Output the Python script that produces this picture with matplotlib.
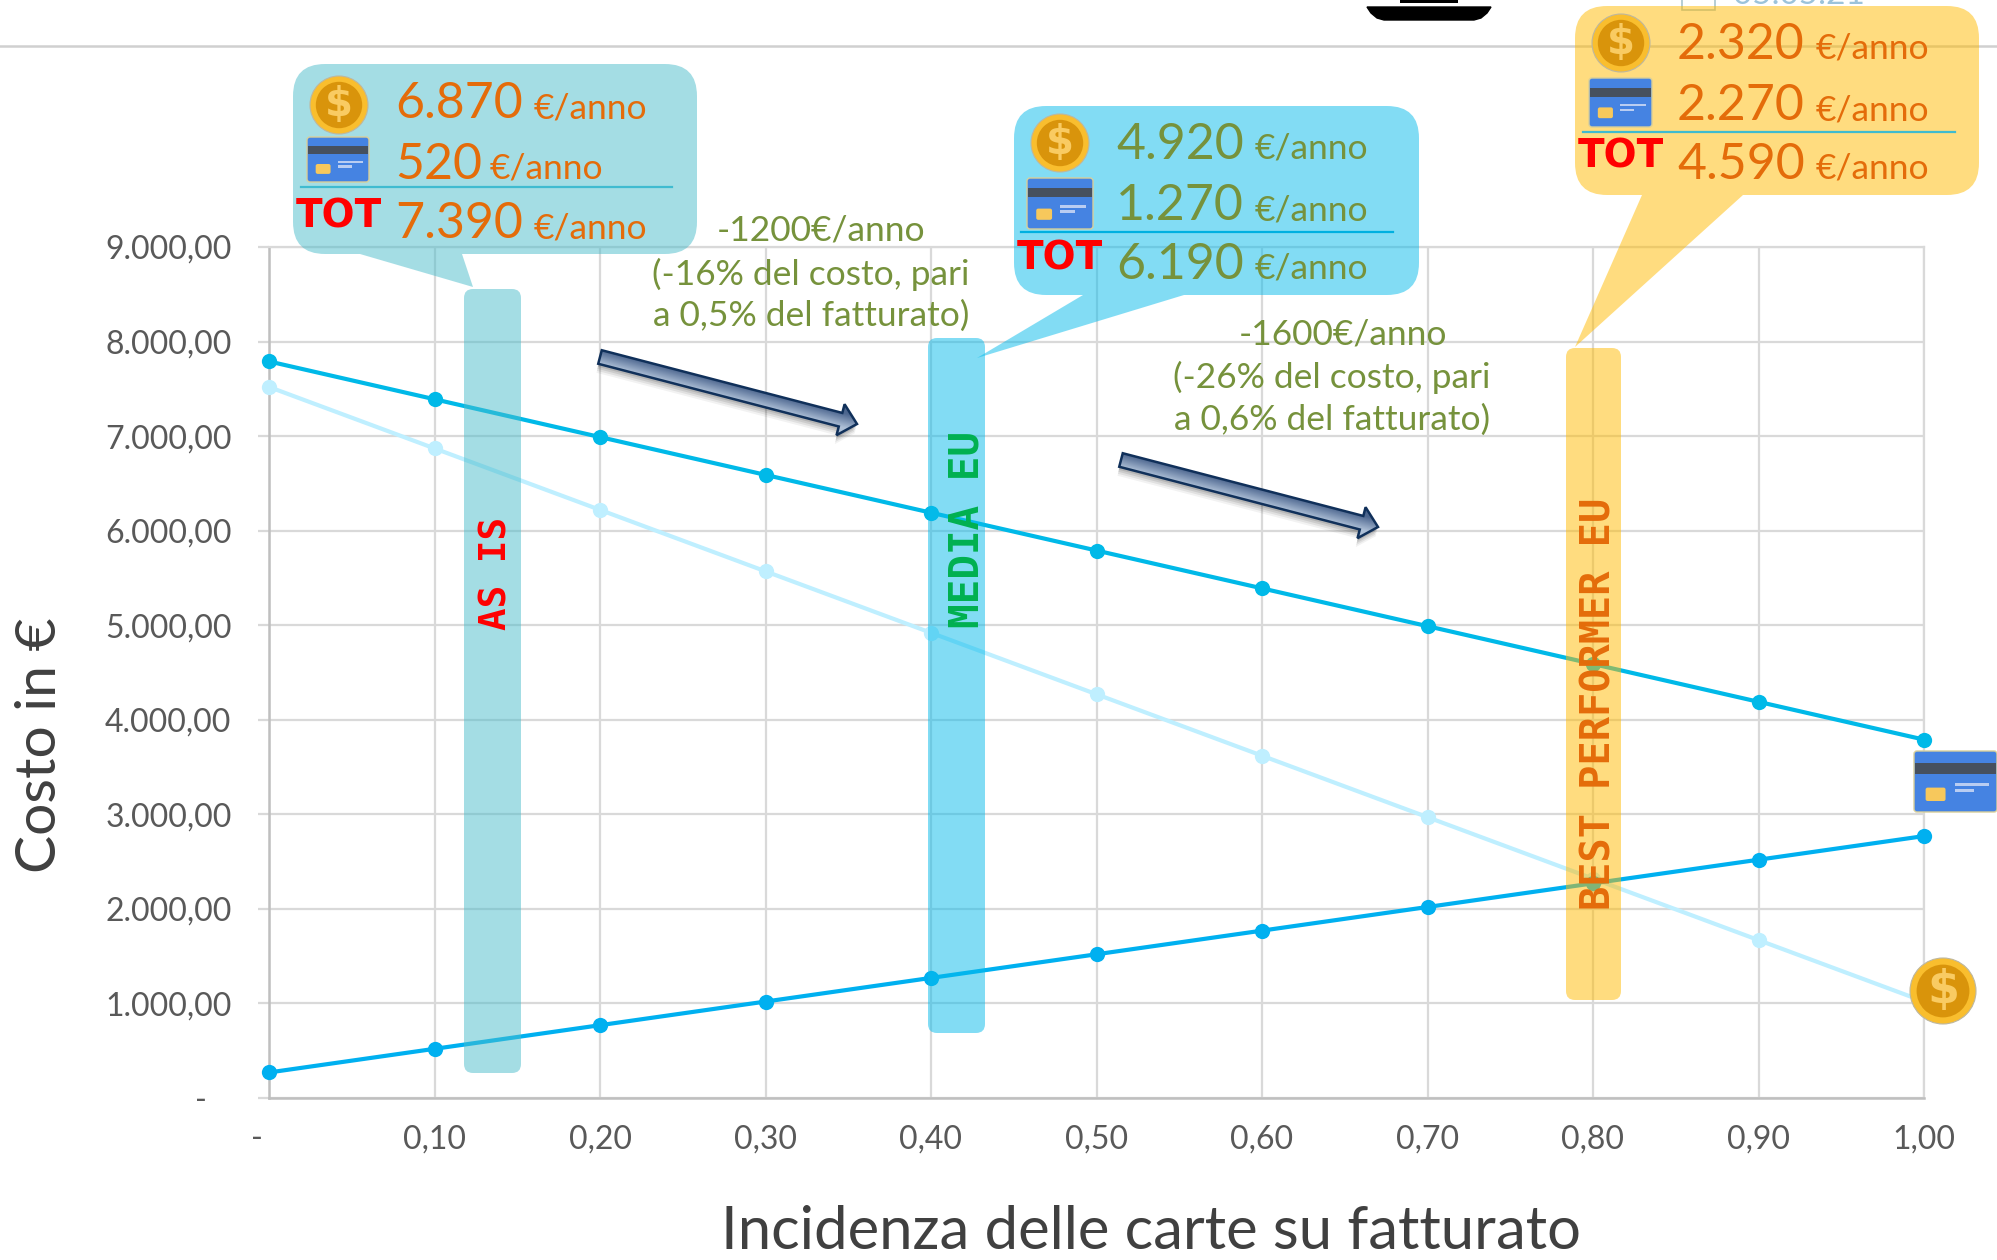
"""
Costo in funzione dell'incidenza delle carte su fatturato
"""

import numpy as np
import matplotlib
matplotlib.use("Agg")
import matplotlib.pyplot as plt
from matplotlib.patches import Circle, FancyBboxPatch, PathPatch, Polygon, Rectangle
from matplotlib.path import Path

W, H = 1997, 1260

# chart data
incidenza = [0.0, 0.1, 0.2, 0.3, 0.4, 0.5, 0.6, 0.7, 0.8, 0.9, 1.0]
costo_totale = [7790, 7390, 6990, 6590, 6190, 5790, 5390, 4990, 4590, 4190, 3790]
costo_contanti = [7520, 6870, 6220, 5570, 4920, 4270, 3620, 2970, 2320, 1670, 1020]
costo_carte = [270, 520, 770, 1020, 1270, 1520, 1770, 2020, 2270, 2520, 2770]
x_ticks = [0.0, 0.1, 0.2, 0.3, 0.4, 0.5, 0.6, 0.7, 0.8, 0.9, 1.0]
x_labels = ["-   ", "0,10", "0,20", "0,30", "0,40", "0,50", "0,60", "0,70", "0,80", "0,90", "1,00"]
y_ticks = [0, 1000, 2000, 3000, 4000, 5000, 6000, 7000, 8000, 9000]
y_labels = ["-   ", "1.000,00", "2.000,00", "3.000,00", "4.000,00", "5.000,00",
            "6.000,00", "7.000,00", "8.000,00", "9.000,00"]

# callout texts
as_is_values = ["6.870", "520", "7.390"]
media_values = ["4.920", "1.270", "6.190"]
best_values = ["2.320", "2.270", "4.590"]
nota_1 = ["-1200€/anno", "(-16% del costo, pari", "a 0,5% del fatturato)"]
nota_2 = ["-1600€/anno", "(-26% del costo, pari", "a 0,6% del fatturato)"]

ORANGE = "#E46C0A"
OLIVE = "#76923C"
GREY = "#595959"
FONT = "Lato"
COMIC = "DejaVu Sans Mono"

plt.rcParams["font.family"] = [FONT, "DejaVu Sans"]
fig = plt.figure(figsize=(W / 100, H / 100), dpi=100, facecolor="white")

# chart axes, placed on the pixels of the reference
L, R, T, B = 269, 1924, 247, 1098
ax = fig.add_axes([L / W, 1 - B / H, (R - L) / W, (B - T) / H])
ax.set_xlim(0, 1)
ax.set_ylim(0, 9000)
ax.set_xticks(x_ticks)
ax.set_xticklabels(x_labels)
ax.set_yticks(y_ticks)
ax.set_yticklabels(y_labels)
ax.grid(True, color="#D9D9D9", lw=1.6)
ax.set_axisbelow(True)
for s in ["top", "right"]:
    ax.spines[s].set_color("#D9D9D9")
    ax.spines[s].set_linewidth(1.6)
for s in ["left", "bottom"]:
    ax.spines[s].set_color("#BFBFBF")
    ax.spines[s].set_linewidth(1.8)
ax.tick_params(axis="y", length=8, width=1.6, color="#D9D9D9", pad=19, labelsize=23, labelcolor=GREY)
ax.tick_params(axis="x", length=0, pad=19, labelsize=23, labelcolor=GREY)

line_style = dict(marker="o", ms=11, mew=0, lw=3, clip_on=False, zorder=3)
ax.plot(incidenza, costo_contanti, color="#BFEFFF", **line_style)
ax.plot(incidenza, costo_totale, color="#00B9E8", **line_style)
ax.plot(incidenza, costo_carte, color="#00B0F0", **line_style)

# overlay in reference pixels for the pasted shapes
ov = fig.add_axes([0, 0, 1, 1], facecolor="none")
ov.set_xlim(0, W)
ov.set_ylim(H, 0)
ov.axis("off")


def bubble(x0, y0, x1, y1, b0, b1, tip, color, r=32):
    # rounded box with its pointer, as a single path so the alpha stays even
    verts = [(x0 + r, y0), (x1 - r, y0), (x1, y0), (x1, y0 + r), (x1, y1 - r), (x1, y1), (x1 - r, y1),
             (b1, y1), tip, (b0, y1), (x0 + r, y1), (x0, y1), (x0, y1 - r), (x0, y0 + r), (x0, y0), (x0 + r, y0)]
    codes = [Path.MOVETO, Path.LINETO, Path.CURVE3, Path.CURVE3, Path.LINETO, Path.CURVE3, Path.CURVE3,
             Path.LINETO, Path.LINETO, Path.LINETO, Path.LINETO, Path.CURVE3, Path.CURVE3,
             Path.LINETO, Path.CURVE3, Path.CURVE3]
    ov.add_patch(PathPatch(Path(verts, codes), fc=color, ec="none", alpha=0.5, zorder=2))


def bar(x0, y0, x1, y1, color):
    ov.add_patch(FancyBboxPatch((x0 + 9, y0 + 9), x1 - x0 - 18, y1 - y0 - 18,
                                boxstyle="round,pad=9,rounding_size=9",
                                fc=color, ec="none", alpha=0.5, zorder=2))


def coin(cx, cy, r=29):
    ov.add_patch(Circle((cx, cy), r, fc="#F9BE2E", ec="#BDB7A0", lw=0.8, zorder=4))
    ov.add_patch(Circle((cx, cy), r * 0.8, fc="#D9940B", ec="none", zorder=4))
    ov.text(cx, cy, "$", color="#F9CB62", fontsize=r * 1.0, fontweight="bold", family="DejaVu Sans",
            ha="center", va="center", zorder=5)


def card(x0, y0, x1, y1):
    w, h = x1 - x0, y1 - y0
    ov.add_patch(FancyBboxPatch((x0 + 3, y0 + 3), w - 6, h - 6, boxstyle="round,pad=3,rounding_size=3",
                                fc="#4583E2", ec="#D8CF9A", lw=1, zorder=4))
    ov.add_patch(Rectangle((x0 + 1, y0 + h * 0.2), w - 2, h * 0.18, fc="#46505E", ec="none", zorder=5))
    ov.add_patch(FancyBboxPatch((x0 + w * 0.14, y0 + h * 0.6), w * 0.24, h * 0.22,
                                boxstyle="round,pad=0,rounding_size=2", fc="#F7C85C", ec="none", zorder=5))
    ov.add_patch(Rectangle((x0 + w * 0.5, y0 + h * 0.53), w * 0.4, h * 0.05, fc="#B9CDF2", ec="none", zorder=5))
    ov.add_patch(Rectangle((x0 + w * 0.5, y0 + h * 0.63), w * 0.22, h * 0.05, fc="#B9CDF2", ec="none", zorder=5))


def callout(x, euro_x, baselines, values, color, tot_x, tot_y):
    for i in range(3):
        ov.text(x, baselines[i], values[i], color=color, fontsize=36, ha="left", va="baseline", zorder=5)
        ov.text(euro_x[i], baselines[i], "€/anno", color=color, fontsize=25.5, ha="left", va="baseline", zorder=5)
    ov.text(tot_x, tot_y, "TOT", color="#FF0000", fontsize=28, fontweight="bold", family="DejaVu Sans",
            ha="left", va="baseline", zorder=5)


def arrow(tail, tip):
    # gradient block arrow with a soft shadow
    tail, tip = np.array(tail, float), np.array(tip, float)
    d = tip - tail
    u = d / np.hypot(*d)
    n = np.array([-u[1], u[0]])
    neck = tip - u * 17
    pts = [tail - n * 7, neck - n * 7, neck - n * 16, tip, neck + n * 16, neck + n * 7, tail + n * 7]
    for off, a in [(9, 0.05), (7, 0.07), (5, 0.09), (3, 0.11)]:
        ov.add_patch(Polygon([p + np.array([-off * 0.2, off]) for p in pts], fc="k", ec="none", alpha=a, zorder=3))
    ov.add_patch(Polygon(pts, fc="none", ec="#10305A", lw=1.8, zorder=5, joinstyle="miter"))
    xs, ys = zip(*pts)
    # gradient runs across the shaft
    yy, xx = np.mgrid[min(ys):max(ys):200j, min(xs):max(xs):600j]
    across = ((xx - tail[0]) * n[0] + (yy - tail[1]) * n[1]) / 14 + 0.5
    across = np.clip(across, 0, 1)[..., None]
    img = np.array([0.30, 0.40, 0.56]) * (1 - across) + np.array([0.68, 0.75, 0.84]) * across
    im = ov.imshow(img, extent=(min(xs), max(xs), max(ys), min(ys)), aspect="auto", zorder=4, interpolation="bilinear")
    im.set_clip_path(Polygon(pts, transform=ov.transData))


# header strip cropped from the slide
ov.plot([0, W], [46, 46], color="#D0D0D0", lw=1.8, zorder=1)
ov.add_patch(Polygon([(1367, 7), (1491, 7), (1487, 13), (1481, 18), (1474, 20), (1384, 20), (1377, 18), (1371, 13)],
                     fc="k", ec="k", zorder=1))
ov.add_patch(Rectangle((1400, 0), 58, 3, fc="k", ec="none", zorder=1))
ov.add_patch(Rectangle((1682, -3), 33, 13, fc="none", ec="#A9C6CF", lw=1.2, zorder=1))
ov.text(1733, 4, "05.05.21", color="#9CC3DA", fontsize=24, ha="left", va="baseline", zorder=1)

# vertical scenario bands
bar(464, 289, 521, 1073, "#4BBCCB")
bar(928, 338, 985, 1033, "#07BBEB")
bar(1566, 348, 1621, 1000, "#FFBB00")

# callout balloons
bubble(293, 64, 697, 254, 360, 462, (473, 287), "#4BBCCB")
bubble(1014, 106, 1419, 295, 1083, 1184, (977, 358), "#07BBEB")
bubble(1575, 6, 1979, 195, 1642, 1743, (1575, 347), "#FFBB00")

coin(339, 105)
card(307, 137, 369, 182)
coin(1060, 143)
card(1027, 178, 1093, 229)
coin(1621, 43)
card(1589, 78, 1652, 127)
card(1914, 751, 1997, 812)
coin(1943, 991, r=33)

ov.plot([301, 672], [187, 187], color="#3FBBD0", lw=1.6, zorder=5)
ov.plot([1021, 1393], [232, 232], color="#00B0E0", lw=1.6, zorder=5)
ov.plot([1583, 1955], [132, 132], color="#3FBBD0", lw=1.6, zorder=5)

callout(395, [534, 490, 534], [118, 179, 238], as_is_values, ORANGE, 296, 227)
callout(1116, [1255, 1255, 1255], [159, 220, 279], media_values, OLIVE, 1017, 269)
callout(1677, [1816, 1816, 1816], [59, 120, 179], best_values, ORANGE, 1578, 168)

# saving notes and arrows
for i, y in enumerate([231, 274, 316]):
    ov.text([821, 811, 811][i], y, nota_1[i], color=OLIVE, fontsize=25.5, ha="center", va="center", zorder=5)
for i, y in enumerate([334, 377, 420]):
    ov.text([1343, 1332, 1332][i], y, nota_2[i], color=OLIVE, fontsize=25.5, ha="center", va="center", zorder=5)
arrow((600, 357), (857, 424))
arrow((1121, 460), (1378, 527))

# band labels
ov.text(497, 573, "AS IS", color="#FF0000", rotation=90, fontsize=27, fontweight="bold", family=COMIC,
        ha="center", va="center", zorder=5)
ov.text(967, 530, "MEDIA EU", color="#00B050", rotation=90, fontsize=29.5, fontweight="bold", family=COMIC,
        ha="center", va="center", zorder=5)
ov.text(1599, 704, "BEST PERFORMER EU", color=ORANGE, rotation=90, fontsize=29, fontweight="bold", family=COMIC,
        ha="center", va="center", zorder=5)

# axis titles
ov.text(41, 745, "Costo in €", color="#404040", rotation=90, fontsize=41, ha="center", va="center", zorder=5)
ov.text(1151, 1232, "Incidenza delle carte su fatturato", color="#404040", fontsize=43,
        ha="center", va="center", zorder=5)

ov.set_xlim(0, W)
ov.set_ylim(H, 0)

fig.savefig("out.png", dpi=100)
